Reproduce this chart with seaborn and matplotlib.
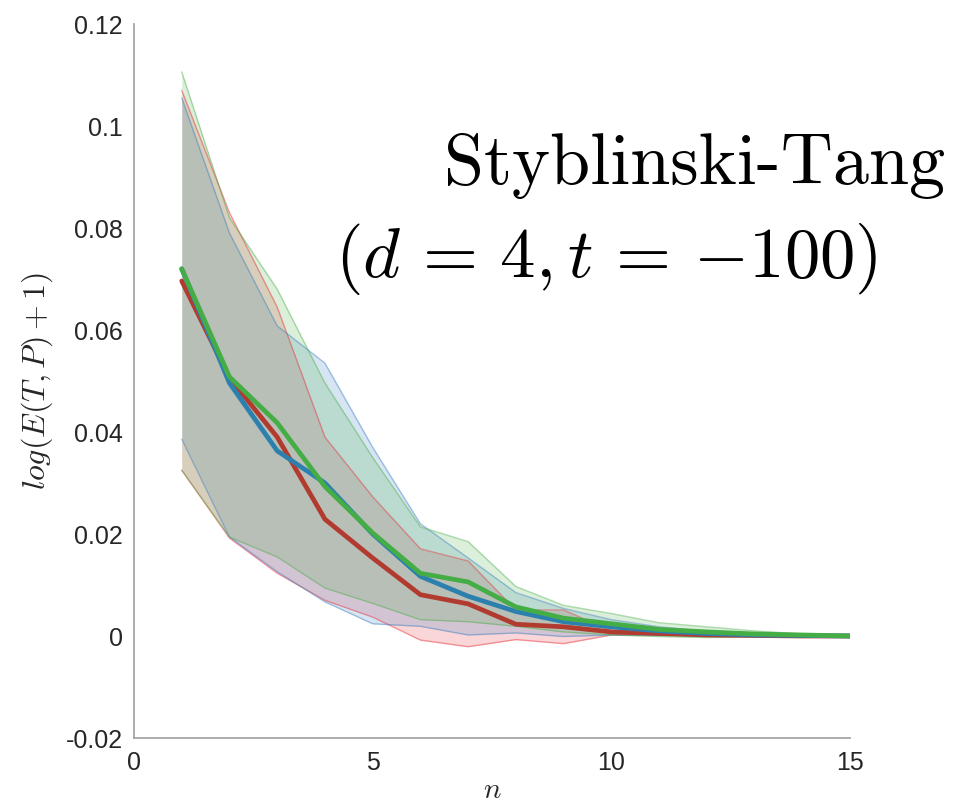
import numpy as np
import pandas as pd
import matplotlib
matplotlib.use("Agg")
import matplotlib.pyplot as plt
import seaborn as sns

# Iterations
n = [1, 2, 3, 4, 5, 6, 7, 8, 9, 10, 11, 12, 13, 14, 15]

# Mean curves of the three methods
red_mean = [0.0696, 0.0506, 0.0390, 0.0229, 0.0153, 0.0081, 0.0063, 0.0023, 0.0018, 0.0008, 0.0005, 0.0002, 0.0001, 0.0, 0.0]
blue_mean = [0.0720, 0.0496, 0.0363, 0.0300, 0.0200, 0.0117, 0.0078, 0.0048, 0.0028, 0.0018, 0.0010, 0.0005, 0.0002, 0.0001, 0.0]
green_mean = [0.0720, 0.0508, 0.0418, 0.0293, 0.0202, 0.0123, 0.0106, 0.0057, 0.0035, 0.0024, 0.0013, 0.0008, 0.0004, 0.0002, 0.0]

# Spread bands (upper / lower)
red_upper = [0.1070, 0.0830, 0.0645, 0.0390, 0.0273, 0.0171, 0.0147, 0.0051, 0.0051, 0.0010, 0.0006, 0.0003, 0.0001, 0.0, 0.0]
red_lower = [0.0325, 0.0192, 0.0123, 0.0070, 0.0037, -0.0008, -0.0021, -0.0007, -0.0015, 0.0002, 0.0002, 0.0001, 0.0, 0.0, 0.0]
blue_upper = [0.1055, 0.0790, 0.0608, 0.0535, 0.0370, 0.0220, 0.0153, 0.0085, 0.0054, 0.0032, 0.0018, 0.0009, 0.0004, 0.0002, 0.0]
blue_lower = [0.0386, 0.0194, 0.0126, 0.0067, 0.0024, 0.0019, 0.0002, 0.0006, -0.0001, 0.0002, 0.0001, 0.0, 0.0, 0.0, 0.0]
green_upper = [0.1106, 0.0820, 0.0680, 0.0496, 0.0350, 0.0214, 0.0185, 0.0097, 0.0060, 0.0044, 0.0026, 0.0018, 0.0010, 0.0004, 0.0]
green_lower = [0.0325, 0.0194, 0.0155, 0.0094, 0.0064, 0.0032, 0.0028, 0.0019, 0.0008, 0.0002, -0.0001, -0.0003, -0.0002, -0.0001, 0.0]

x_ticks = [0, 5, 10, 15]
y_ticks = [-0.02, 0, 0.02, 0.04, 0.06, 0.08, 0.1, 0.12]
y_tick_labels = ["-0.02", "0", "0.02", "0.04", "0.06", "0.08", "0.1", "0.12"]

sns.set_theme(style="white")
plt.rcParams["font.family"] = ["Liberation Sans", "DejaVu Sans"]
plt.rcParams["mathtext.fontset"] = "cm"

series = [
    ("red", red_mean, red_lower, red_upper, "#b23b30", "#e8323c"),
    ("blue", blue_mean, blue_lower, blue_upper, "#2c80ae", "#3a7fc2"),
    ("green", green_mean, green_lower, green_upper, "#45ad45", "#4caf4a"),
]

fig = plt.figure(figsize=(9.55, 8.07), dpi=100)
ax = fig.add_axes([134 / 955, 69 / 807, (850 - 134) / 955, (738 - 24) / 807])

for name, mean, lo, hi, lc, fc in series:
    ax.fill_between(n, lo, hi, color=fc, alpha=0.2, linewidth=0)
    ax.plot(n, hi, color=fc, alpha=0.45, linewidth=1.0)
    ax.plot(n, lo, color=fc, alpha=0.45, linewidth=1.0)

for name, mean, lo, hi, lc, fc in series:
    df = pd.DataFrame({"n": n, "v": mean})
    sns.lineplot(data=df, x="n", y="v", ax=ax, color=lc, linewidth=3.4, errorbar=None)

ax.set_xlim(0, 15)
ax.set_ylim(-0.02, 0.12)
ax.set_xticks(x_ticks)
ax.set_xticklabels([str(t) for t in x_ticks])
ax.set_yticks(y_ticks)
ax.set_yticklabels(y_tick_labels)

for side in ("top", "right"):
    ax.spines[side].set_visible(False)
for side in ("left", "bottom"):
    ax.spines[side].set_color("#a6a6a6")
    ax.spines[side].set_linewidth(1.3)
ax.tick_params(axis="both", direction="in", length=6, width=0.8, color="#8c8c8c",
               labelsize=18, labelcolor="#262626")
ax.tick_params(axis="x", pad=9)
ax.tick_params(axis="y", pad=8)

ax.set_xlabel("$n$", fontsize=21, color="#262626", labelpad=1)
ax.set_ylabel("$log(E(T,P)+1)$", fontsize=23, color="#262626", labelpad=8)

fig.text(945 / 955, 1 - 184 / 807, "Styblinski-Tang", family="cmr10",
         fontsize=52, ha="right", va="baseline", color="black")
fig.text(335 / 955, 1 - 277 / 807, r"$(d\,=\,4,t\,=\,{-}100)$", fontsize=51,
         ha="left", va="baseline", color="black")

fig.savefig("out.png", dpi=100)
